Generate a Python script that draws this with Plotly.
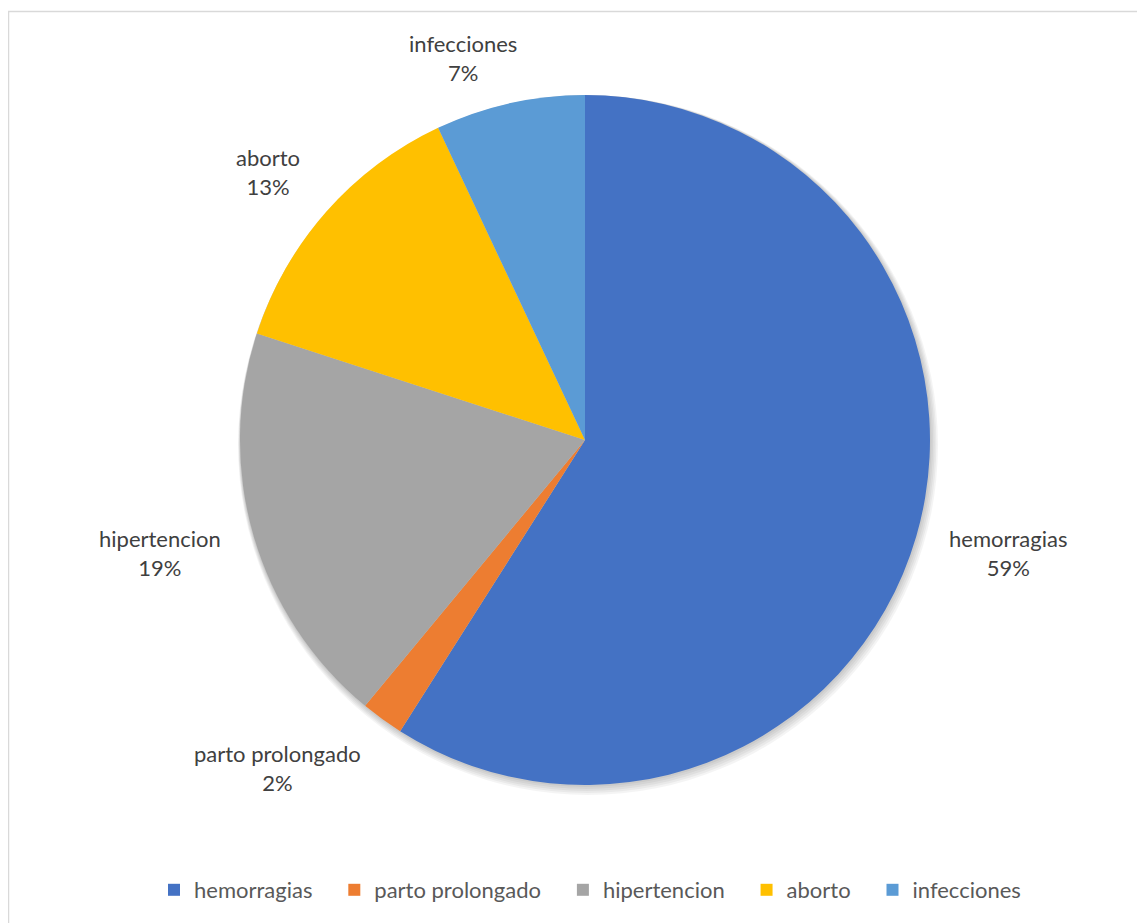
import math
import plotly.graph_objects as go

categories = ["hemorragias", "parto prolongado", "hipertencion", "aborto", "infecciones"]
values = [59, 2, 19, 13, 7]
colors = ["#4472C4", "#ED7D31", "#A5A5A5", "#FFC000", "#5B9BD5"]

# page has an 8px body margin, so the figure is drawn 8px in from the window edge
W, H = 1137, 915
OFF = 8
FONT = "Lato, Open Sans, sans-serif"
TXT = "#404040"

# pie geometry (figure pixels)
cx, cy, R = 585 - OFF, 440 - OFF, 345
LINE_H = 29          # approx. height of one label line
LABEL_GAP = 32       # distance of label anchor from pie edge
# small per-label placement tweaks (pixels), mimicking the spreadsheet's "best fit"
label_nudge = {"infecciones": (-40, 14)}


def dom(x0, y0, r):
    return dict(x=[(x0 - r) / W, (x0 + r) / W], y=[(H - (y0 + r)) / H, (H - (y0 - r)) / H])


fig = go.Figure()

# soft drop shadow (layered translucent discs behind the pie)
for k in range(1, 6):
    fig.add_trace(go.Pie(
        values=[1], labels=["_shadow"], sort=False, showlegend=False,
        domain=dom(cx + 0.6 * k, cy + 1.0 * k, R + 1.0 * k),
        marker=dict(colors=["rgba(0,0,0,0.045)"], line=dict(width=0)),
        textinfo="none", hoverinfo="skip",
    ))

# legend entries get a little trailing space to mimic the wider item spacing
legend_labels = [c + ("\u00a0" * 3 if i < len(categories) - 1 else "") for i, c in enumerate(categories)]

fig.add_trace(go.Pie(
    labels=legend_labels,
    values=values,
    sort=False,
    direction="clockwise",
    rotation=0,
    domain=dom(cx, cy, R),
    marker=dict(colors=colors, line=dict(color="white", width=0)),
    textinfo="none",
    customdata=categories,
    hovertemplate="%{customdata}: %{percent}<extra></extra>",
    automargin=False,
))

# data labels placed outside each slice, derived from the values
total = sum(values)
annotations = []
cum = 0
for lab, v in zip(categories, values):
    mid = (cum + v / 2) / total
    cum += v
    th = 2 * math.pi * mid
    dx, dy_up = math.sin(th), math.cos(th)
    rr = R + LABEL_GAP
    px = cx + rr * dx
    py = cy - rr * dy_up - dy_up * LINE_H
    nx, ny = label_nudge.get(lab, (0, 0))
    px += nx
    py += ny
    xa = "left" if dx > 0.4 else ("right" if dx < -0.4 else "center")
    pct = round(100 * v / total)
    annotations.append(dict(
        x=px / W, y=(H - py) / H, xref="paper", yref="paper",
        text=f"{lab}<br>{pct}%", showarrow=False,
        xanchor=xa, yanchor="middle", align="center",
        font=dict(family=FONT, size=22, color=TXT),
    ))

fig.update_layout(
    width=W, height=H,
    margin=dict(l=0, r=0, t=0, b=0),
    paper_bgcolor="white",
    font=dict(family=FONT, size=22, color="#595959"),
    annotations=annotations,
    legend=dict(orientation="h", x=(590 - OFF) / W, xanchor="center",
                y=(H - (890 - OFF)) / H, yanchor="middle",
                font=dict(family=FONT, size=22, color="#595959"),
                itemwidth=30, traceorder="normal"),
    shapes=[dict(type="rect", xref="paper", yref="paper",
                 x0=0.5 / W, x1=(W + 5) / W,
                 y0=-5 / H, y1=(H - 3.5) / H,
                 line=dict(color="#D9D9D9", width=1.5), layer="below")],
)

fig.write_html("out.html")
